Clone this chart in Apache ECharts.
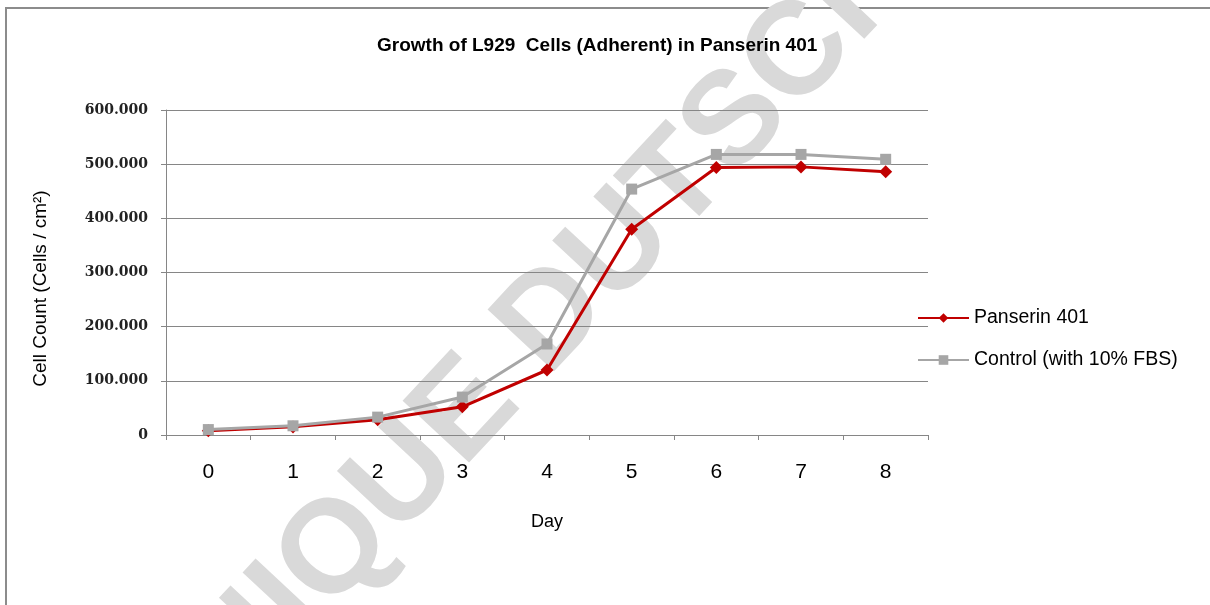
<!DOCTYPE html>
<html lang="en">
<head>
  <meta charset="UTF-8">
  <script src="https://cdn.jsdelivr.net/npm/echarts@6/dist/echarts.min.js"></script>
  <style>
    body { margin: 0; background: #fff; }
    #main { width: 1210px; height: 605px; }
  </style>
  <title>Growth of L929 Cells</title>
</head>
<body>
  <div id="main"></div>
  <script>
    // data
    const days = ['0', '1', '2', '3', '4', '5', '6', '7', '8'];
    const panserin = [8000, 15000, 28000, 52000, 120000, 380000, 494000, 495000, 486000];
    const control = [10000, 17000, 33000, 70000, 168000, 454000, 518000, 518000, 509000];
    const yTicks = [0, 100000, 200000, 300000, 400000, 500000, 600000];

    const myChart = echarts.init(document.getElementById('main'));

    function fmt(v) {
      if (v === 0) return '0';
      return (v / 1000).toFixed(3);
    }

    const option = {
      animation: false,
      title: {
        text: 'Growth of L929  Cells (Adherent) in Panserin 401',
        left: 372,
        top: 31,
        textStyle: { fontFamily: 'Liberation Sans', fontSize: 19, fontWeight: 'bold', color: '#000' }
      },
      grid: { left: 166, right: 282, top: 110, bottom: 170 },
      legend: {
        orient: 'vertical',
        left: 912,
        top: 303,
        itemWidth: 51,
        itemHeight: 12,
        itemGap: 22,
        textStyle: { fontFamily: 'Liberation Sans', fontSize: 19.5, color: '#000' },
        data: ['Panserin 401', 'Control (with 10% FBS)']
      },
      xAxis: {
        type: 'category',
        data: days,
        name: 'Day',
        nameLocation: 'middle',
        nameGap: 78,
        nameTextStyle: { fontFamily: 'Liberation Sans', fontSize: 18, color: '#000' },
        axisLine: { lineStyle: { color: '#868686' } },
        axisTick: { show: true, length: 5, lineStyle: { color: '#868686' } },
        axisLabel: { interval: 0, fontFamily: 'Liberation Sans', fontSize: 21, color: '#000', margin: 27 }
      },
      yAxis: {
        type: 'value',
        min: yTicks[0],
        max: yTicks[yTicks.length - 1],
        interval: 100000,
        name: 'Cell Count (Cells / cm²)',
        nameLocation: 'middle',
        nameGap: 116,
        nameTextStyle: { fontFamily: 'Liberation Sans', fontSize: 19, color: '#000', padding: [0, 32, 0, 0] },
        axisLine: { show: true, lineStyle: { color: '#868686' } },
        axisTick: { show: true, length: 5, lineStyle: { color: '#868686' } },
        splitLine: { lineStyle: { color: '#868686', width: 1 } },
        axisLabel: {
          fontFamily: 'DejaVu Serif', fontSize: 14, fontWeight: 'bold', color: '#222', margin: 18,
          formatter: fmt
        }
      },
      graphic: [
        {
          type: 'rect',
          shape: { x: 6, y: 8, width: 1210, height: 610 },
          style: { fill: 'none', stroke: '#8c8c8c', lineWidth: 2 },
          z: -10
        },
        {
          type: 'text',
          x: 584,
          y: 286,
          rotation: 47 * Math.PI / 180,
          z: -10,
          style: {
            text: 'UNIQUE DUTSCHER',
            fontFamily: 'Liberation Sans',
            fontWeight: 'bold',
            fontSize: 132,
            fill: '#d9d9d9',
            align: 'center',
            verticalAlign: 'middle'
          }
        }
      ],
      series: [
        {
          name: 'Panserin 401',
          type: 'line',
          data: panserin,
          z: 3,
          symbol: 'diamond',
          symbolSize: 13,
          color: '#c00000',
          lineStyle: { width: 3, color: '#c00000' },
          itemStyle: { color: '#c00000' }
        },
        {
          name: 'Control (with 10% FBS)',
          type: 'line',
          data: control,
          z: 4,
          symbol: 'rect',
          symbolSize: 11,
          color: '#a6a6a6',
          lineStyle: { width: 3, color: '#a6a6a6' },
          itemStyle: { color: '#a6a6a6' }
        }
      ]
    };

    option && myChart.setOption(option);
  </script>
</body>
</html>
